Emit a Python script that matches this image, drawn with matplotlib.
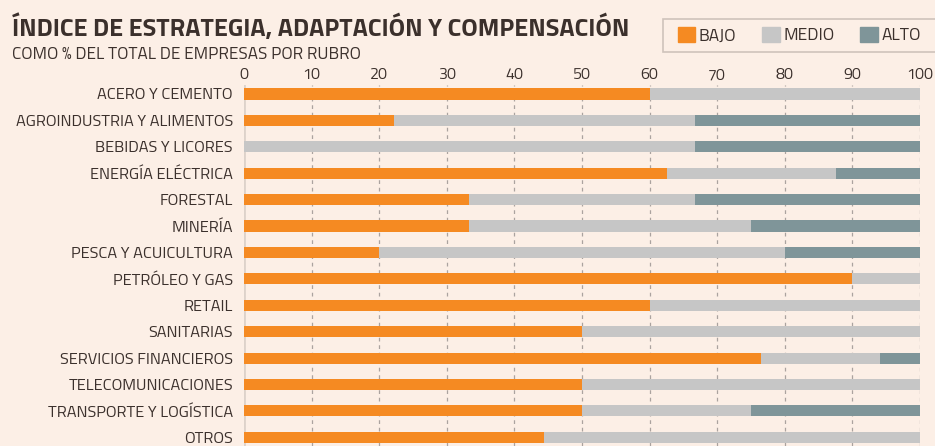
import numpy as np
import matplotlib
matplotlib.use("Agg")
from matplotlib import pyplot as plt
from matplotlib.patches import Patch, Rectangle

# datos (% del total de empresas por rubro)
rubros = ["ACERO Y CEMENTO", "AGROINDUSTRIA Y ALIMENTOS", "BEBIDAS Y LICORES",
          "ENERGÍA ELÉCTRICA", "FORESTAL", "MINERÍA", "PESCA Y ACUICULTURA",
          "PETRÓLEO Y GAS", "RETAIL", "SANITARIAS", "SERVICIOS FINANCIEROS",
          "TELECOMUNICACIONES", "TRANSPORTE Y LOGÍSTICA", "OTROS"]
bajo = [60.0, 22.2, 0.0, 62.5, 33.3, 33.3, 20.0, 90.0, 60.0, 50.0, 76.5, 50.0, 50.0, 44.4]
medio = [40.0, 44.5, 66.7, 25.0, 33.4, 41.7, 60.0, 10.0, 40.0, 50.0, 17.6, 50.0, 25.0, 55.6]
alto = [0.0, 33.3, 33.3, 12.5, 33.3, 25.0, 20.0, 0.0, 0.0, 0.0, 5.9, 0.0, 25.0, 0.0]
ticks = [0, 10, 20, 30, 40, 50, 60, 70, 80, 90, 100]

bg = "#fcefe6"
c_bajo = "#f58a22"
c_medio = "#c6c6c6"
c_alto = "#7f9599"
txt = "#3b302c"

plt.rcParams["font.family"] = ["Titillium Web", "DejaVu Sans"]

W, H = 935, 446
fig = plt.figure(figsize=(W/100, H/100), dpi=100, facecolor=bg)
ax = fig.add_axes([244/W, 0.0, 676/W, 1 - 85/H])
ax.set_facecolor(bg)

y = np.arange(len(rubros))
bajo = np.array(bajo)
medio = np.array(medio)
alto = np.array(alto)
h = 0.42
ax.barh(y, bajo, height=h, color=c_bajo, zorder=3)
ax.barh(y, medio, left=bajo, height=h, color=c_medio, zorder=3)
ax.barh(y, alto, left=bajo + medio, height=h, color=c_alto, zorder=3)

ax.set_xlim(0, 100)
ax.set_ylim(13.33, -0.34)
ax.set_yticks(y)
ax.set_yticklabels(rubros, fontsize=11.8, color=txt)
ax.set_xticks(ticks)
ax.xaxis.tick_top()
ax.tick_params(axis="x", length=0, pad=2, labelsize=11.5, labelcolor=txt)
ax.tick_params(axis="y", length=0, pad=8)
for s in ax.spines.values():
    s.set_visible(False)
for t in ticks[1:]:
    ax.axvline(t, color="#aba39f", lw=0.9, ls=(0, (3, 3)), zorder=1)
ax.axvline(0, color="#ddd2ca", lw=2, zorder=2)

fig.text(12/W, 1 - 28/H, "ÍNDICE DE ESTRATEGIA, ADAPTACIÓN Y COMPENSACIÓN",
         fontsize=18.2, fontweight="bold", color=txt, va="center", ha="left")
fig.text(12/W, 1 - 54/H, "COMO % DEL TOTAL DE EMPRESAS POR RUBRO",
         fontsize=12.3, color=txt, va="center", ha="left")

# caja de la leyenda (se sale por el borde derecho)
fig.patches.append(Rectangle((663/W, 1 - 52/H), 290/W, 33/H, transform=fig.transFigure,
                             facecolor=bg, edgecolor="#cfc3bb", lw=1.2, zorder=0))
handles = [Patch(color=c_bajo, label="BAJO"), Patch(color=c_medio, label="MEDIO"),
           Patch(color=c_alto, label="ALTO")]
leg = fig.legend(handles=handles, ncol=3, loc="center left", bbox_to_anchor=(678/W, 1 - 35.5/H),
                 frameon=False, fontsize=12.5, handlelength=1.0, handleheight=1.0,
                 handletextpad=0.2, columnspacing=1.5, borderpad=0, borderaxespad=0,
                 labelcolor=txt)

fig.savefig("out.png", dpi=100, facecolor=bg)
